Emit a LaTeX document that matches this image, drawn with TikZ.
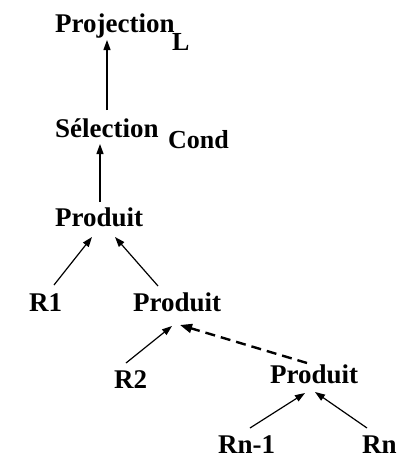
\documentclass[tikz,border=0pt]{standalone}
\usepackage{fontspec}
\setmainfont{Liberation Serif}
\usetikzlibrary{arrows.meta}
\begin{document}
\begin{tikzpicture}[x=1pt,y=-1pt,
  lbl/.style={anchor=base west, inner sep=0pt, font=\bfseries\fontsize{27}{27}\selectfont},
  sublbl/.style={anchor=base west, inner sep=0pt, font=\bfseries\fontsize{26}{26}\selectfont},
  arr/.style={-{Triangle[length=10pt,width=7pt]}, line width=1.2pt},
  darr/.style={arr, dash pattern=on 10pt off 6pt, line width=2.4pt, -{Triangle[length=12pt,width=9pt]}}]
  \useasboundingbox (0,0) rectangle (406,458);
  % operator tree
  \node[lbl] (proj) at (55,32) {Projection};
  \node[sublbl] (lsub) at (172,50) {L};
  \node[lbl] (sel) at (55,137) {Sélection};
  \node[sublbl] (cond) at (168,148) {Cond};
  \node[lbl] (p1) at (55,226) {Produit};
  \node[lbl] (r1) at (29,311) {R1};
  \node[lbl] (p2) at (133,311) {Produit};
  \node[lbl] (r2) at (114,388) {R2};
  \node[lbl] (p3) at (270,383) {Produit};
  \node[lbl] (rn1) at (218,453) {Rn-1};
  \node[lbl] (rn) at (362,453) {Rn};
  % edges, child to parent
  \draw[arr] ([shift={(52,-27)}]sel.base west) -- ([shift={(52,8)}]proj.base west);
  \draw[arr] ([shift={(45,-24)}]p1.base west) -- ([shift={(45,7)}]sel.base west);
  \draw[arr] ([shift={(25,-26)}]r1.base west) -- ([shift={(37,11)}]p1.base west);
  \draw[arr] ([shift={(25,-25)}]p2.base west) -- ([shift={(60,11)}]p1.base west);
  \draw[arr] ([shift={(12,-25)}]r2.base west) -- ([shift={(39,15)}]p2.base west);
  \draw[darr] ([shift={(37,-20)}]p3.base west) -- ([shift={(47,14)}]p2.base west);
  \draw[arr] ([shift={(32,-25)}]rn1.base west) -- ([shift={(35,10)}]p3.base west);
  \draw[arr] ([shift={(5,-25)}]rn.base west) -- ([shift={(45,9)}]p3.base west);
\end{tikzpicture}
\end{document}
